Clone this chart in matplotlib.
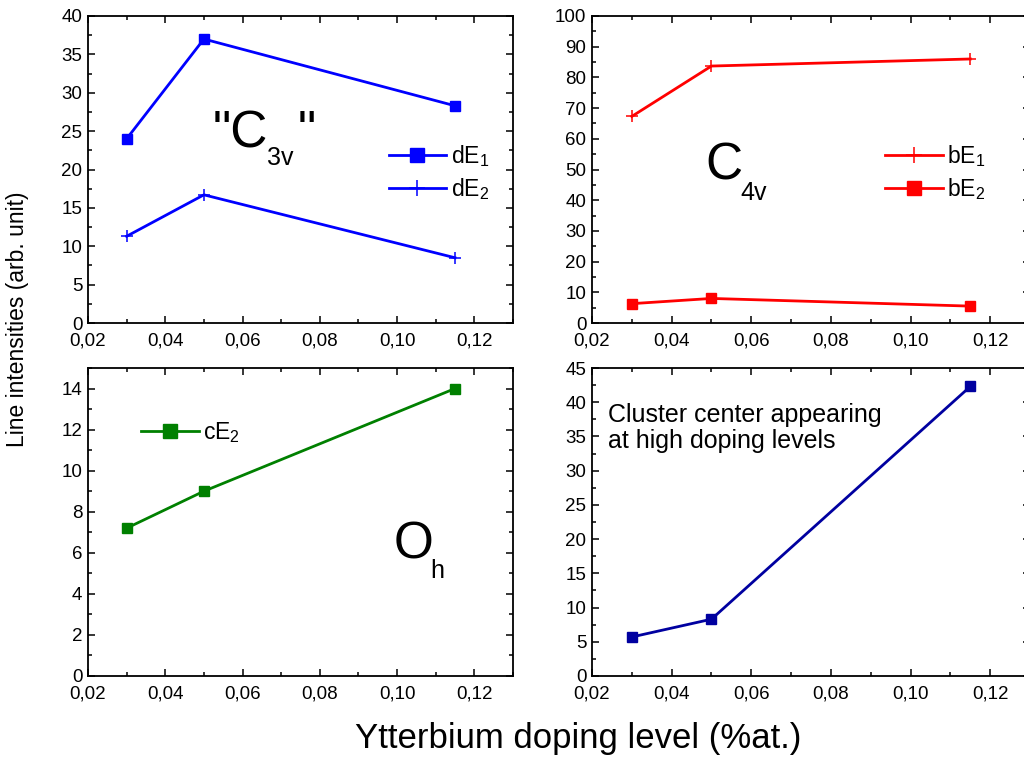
import numpy as np
import matplotlib.pyplot as plt
from matplotlib.ticker import MultipleLocator, FuncFormatter

plt.rcParams['font.family'] = ['Liberation Sans', 'DejaVu Sans']
plt.rcParams['mathtext.fontset'] = 'custom'
plt.rcParams['mathtext.rm'] = 'Liberation Sans'
plt.rcParams['mathtext.it'] = 'Liberation Sans'

# Dopage Yb (%at.)
dopage = [0.03, 0.05, 0.115]

# Intensites des raies
dE1 = [24.0, 37.0, 28.3]
dE2 = [11.3, 16.7, 8.5]
bE1 = [67.3, 83.7, 86.0]
bE2 = [6.3, 8.0, 5.5]
cE2 = [7.2, 9.0, 14.0]
cluster = [5.7, 8.3, 42.3]

W, H = 1024, 764
fig = plt.figure(figsize=(W / 100, H / 100), dpi=100)


def px_axes(x0, y0, x1, y1):
    # rectangle en pixels (haut-gauche, bas-droite)
    return fig.add_axes([x0 / W, 1 - y1 / H, (x1 - x0) / W, (y1 - y0) / H])


ax1 = px_axes(88, 16, 513, 323)
ax2 = px_axes(592, 16, 1030, 323)
ax3 = px_axes(88, 368, 513, 676)
ax4 = px_axes(592, 368, 1030, 676)

virgule = FuncFormatter(lambda v, p: f'{v:.2f}'.replace('.', ','))


def style(ax, ymax, ymaj, ymin):
    ax.set_xlim(0.02, 0.13)
    ax.set_ylim(0, ymax)
    ax.xaxis.set_major_locator(MultipleLocator(0.02))
    ax.xaxis.set_minor_locator(MultipleLocator(0.01))
    ax.yaxis.set_major_locator(MultipleLocator(ymaj))
    ax.yaxis.set_minor_locator(MultipleLocator(ymin))
    ax.xaxis.set_major_formatter(virgule)
    ax.tick_params(which='both', direction='in', top=True, right=True,
                   width=1.1, labelsize=13.5)
    ax.tick_params(which='major', length=5, pad=4)
    ax.tick_params(axis='x', which='major', pad=6.5)
    ax.tick_params(which='minor', length=3)
    for s in ax.spines.values():
        s.set_linewidth(1.3)


leg_kw = dict(loc='center left', frameon=False, fontsize=16.5, handlelength=2.5,
              handletextpad=0.2, labelspacing=0.3, markerscale=1.3,
              borderpad=0.2)

# "C3v"
ax1.plot(dopage, dE1, 's-', color='#0000FF', lw=2, ms=7.5, label='dE$_1$')
ax1.plot(dopage, dE2, '+-', color='#0000FF', lw=2, ms=9, mew=1.1, label='dE$_2$')
style(ax1, 40, 5, 2.5)
ax1.legend(bbox_to_anchor=(0.67, 0.49), **leg_kw)
ax1.text(0.294, 0.573, '"C', transform=ax1.transAxes, fontsize=37, va='baseline')
ax1.text(0.421, 0.515, '3v', transform=ax1.transAxes, fontsize=18, va='baseline')
ax1.text(0.494, 0.573, '"', transform=ax1.transAxes, fontsize=37, va='baseline')

# C4v
ax2.plot(dopage, bE1, '+-', color='#FF0000', lw=2, ms=9, mew=1.1, label='bE$_1$')
ax2.plot(dopage, bE2, 's-', color='#FF0000', lw=2, ms=7.5, label='bE$_2$')
style(ax2, 100, 10, 5)
ax2.legend(bbox_to_anchor=(0.633, 0.49), **leg_kw)
ax2.text(0.258, 0.466, 'C', transform=ax2.transAxes, fontsize=37, va='baseline')
ax2.text(0.338, 0.401, '4v', transform=ax2.transAxes, fontsize=18, va='baseline')

# Oh
ax3.plot(dopage, cE2, 's-', color='#008000', lw=2, ms=7.5, label='cE$_2$')
style(ax3, 15, 2, 1)
ax3.legend(bbox_to_anchor=(0.088, 0.79), **leg_kw)
ax3.text(0.718, 0.383, 'O', transform=ax3.transAxes, fontsize=37, va='baseline')
ax3.text(0.805, 0.318, 'h', transform=ax3.transAxes, fontsize=18, va='baseline')

# centre agrege
ax4.plot(dopage, cluster, 's-', color='#0000A0', lw=2, ms=7.5)
style(ax4, 45, 5, 2.5)
ax4.text(0.037, 0.885, 'Cluster center appearing\nat high doping levels',
         transform=ax4.transAxes, fontsize=18, va='top', linespacing=1.1)

fig.text(18 / W, 1 - 319 / H, 'Line intensities (arb. unit)', rotation=90,
         ha='center', va='center', fontsize=16.5)
fig.text(578 / W, 1 - 748 / H, 'Ytterbium doping level (%at.)',
         ha='center', va='baseline', fontsize=25)

fig.savefig('out.png', dpi=100)
